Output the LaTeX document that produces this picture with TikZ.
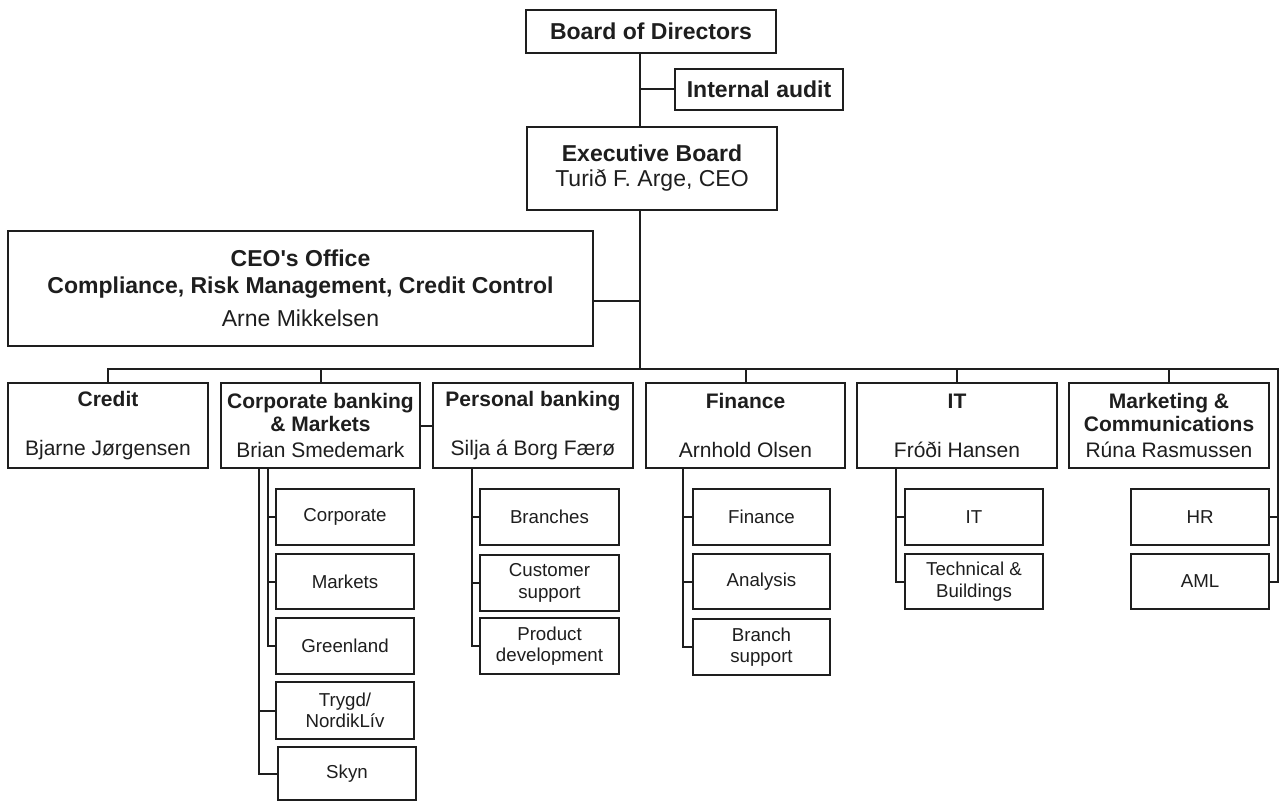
\documentclass[tikz,border=0pt]{standalone}
\usepackage{fontspec}
\setmainfont{Liberation Sans}
\definecolor{ink}{RGB}{30,30,30}
\newcommand{\orgbox}[7]{%
  \node[#1, minimum width={(#5)-(#3)}, minimum height={(#6)-(#4)}] (#2)
    at ({((#3)+(#5))/2},{((#4)+(#6))/2}) {#7};}
\begin{document}
\begin{tikzpicture}[x=1pt,y=-1pt,
  box/.style={draw=ink, line width=2pt, inner sep=0pt, align=center, fill=white, text=ink},
  topbox/.style={box, font=\fontsize{23}{25}\selectfont},
  ceobox/.style={box, font=\fontsize{23}{27}\selectfont},
  deptbox/.style={box, font=\fontsize{21}{23}\selectfont},
  subbox/.style={box, font=\fontsize{18.7}{21.5}\selectfont},
  link/.style={draw=ink, line width=2pt}]
\useasboundingbox[fill=white] (0,0) rectangle (1280,802);

% top
\orgbox{topbox}{board}{526}{10}{776}{53}{\textbf{Board of Directors}}
\orgbox{topbox}{audit}{675}{69}{843}{110}{\textbf{Internal audit}}
\orgbox{topbox}{exec}{527}{127}{777}{210}{\textbf{Executive Board}\\Turið F. Arge, CEO}
\orgbox{ceobox}{ceo}{8}{231}{593}{346}{\textbf{CEO\textquotesingle s Office}\\\textbf{Compliance, Risk Management, Credit Control}\\[6pt]Arne Mikkelsen}

% departments
\orgbox{deptbox}{credit}{8}{383}{208}{468}{\textbf{Credit}\\\strut\\[3pt]Bjarne Jørgensen}
\orgbox{deptbox}{corp}{221}{383}{420}{468}{\textbf{Corporate banking}\\\textbf{\& Markets}\\[3pt]Brian Smedemark}
\orgbox{deptbox}{personal}{433}{383}{633}{468}{\textbf{Personal banking}\\\strut\\[3pt]Silja á Borg Færø}
\orgbox{deptbox}{finance}{646}{383}{845}{468}{\textbf{Finance}\\\strut\\[3pt]Arnhold Olsen}
\orgbox{deptbox}{it}{857}{383}{1057}{468}{\textbf{IT}\\\strut\\[3pt]Fróði Hansen}
\orgbox{deptbox}{mkt}{1069}{383}{1269}{468}{\textbf{Marketing \&}\\\textbf{Communications}\\[3pt]Rúna Rasmussen}

% corporate sub units
\orgbox{subbox}{corporate}{276}{489}{414}{545}{Corporate}
\orgbox{subbox}{markets}{276}{554}{414}{609}{Markets}
\orgbox{subbox}{greenland}{276}{618}{414}{674}{Greenland}
\orgbox{subbox}{trygd}{276}{682}{414}{739}{Trygd/\\NordikLív}
\orgbox{subbox}{skyn}{278}{747}{416}{800}{Skyn}

% personal sub units
\orgbox{subbox}{branches}{480}{489}{619}{545}{Branches}
\orgbox{subbox}{custsup}{480}{555}{619}{611}{Customer\\support}
\orgbox{subbox}{proddev}{480}{618}{619}{674}{Product\\development}

% finance sub units
\orgbox{subbox}{finsub}{693}{489}{830}{545}{Finance}
\orgbox{subbox}{analysis}{693}{554}{830}{609}{Analysis}
\orgbox{subbox}{branchsup}{693}{619}{830}{675}{Branch\\support}

% IT sub units
\orgbox{subbox}{itsub}{905}{489}{1043}{545}{IT}
\orgbox{subbox}{tech}{905}{554}{1043}{609}{Technical \&\\Buildings}

% marketing sub units
\orgbox{subbox}{hr}{1131}{489}{1269}{545}{HR}
\orgbox{subbox}{aml}{1131}{554}{1269}{609}{AML}

% helper coordinates
\coordinate (trk) at (640,369);
\coordinate (trkR) at (1278,369);
\coordinate (ci) at (268,0);
\coordinate (co) at (259,0);
\coordinate (pv) at (472,0);
\coordinate (fv) at (683,0);
\coordinate (iv) at (896,0);

% trunk
\draw[link] (board.south -| trk) -- (exec.north -| trk);
\draw[link] (exec.south -| trk) -- (trk);
\draw[link] (audit.west) -- (audit.west -| trk);
\draw[link] ([yshift=-12.5pt]ceo.east) -- ([yshift=-12.5pt]ceo.east -| trk);

% bus
\draw[link] (credit.north) |- (trkR) |- (aml.east);
\draw[link] (hr.east) -- (hr.east -| trkR);
\draw[link] (corp.north) -- (corp.north |- trk);
\draw[link] (finance.north) -- (finance.north |- trk);
\draw[link] (it.north) -- (it.north |- trk);
\draw[link] (mkt.north) -- (mkt.north |- trk);
\draw[link] (corp.east) -- (personal.west);

% corporate branches
\draw[link] (corp.south -| ci) |- (greenland.west);
\draw[link] (corporate.west) -- (corporate.west -| ci);
\draw[link] (markets.west) -- (markets.west -| ci);
\draw[link] (corp.south -| co) |- (skyn.west);
\draw[link] (trygd.west) -- (trygd.west -| co);

% personal branches
\draw[link] (personal.south -| pv) |- (proddev.west);
\draw[link] (branches.west) -- (branches.west -| pv);
\draw[link] (custsup.west) -- (custsup.west -| pv);

% finance branches
\draw[link] (finance.south -| fv) |- (branchsup.west);
\draw[link] (finsub.west) -- (finsub.west -| fv);
\draw[link] (analysis.west) -- (analysis.west -| fv);

% IT branches
\draw[link] (it.south -| iv) |- (tech.west);
\draw[link] (itsub.west) -- (itsub.west -| iv);
\end{tikzpicture}
\end{document}
